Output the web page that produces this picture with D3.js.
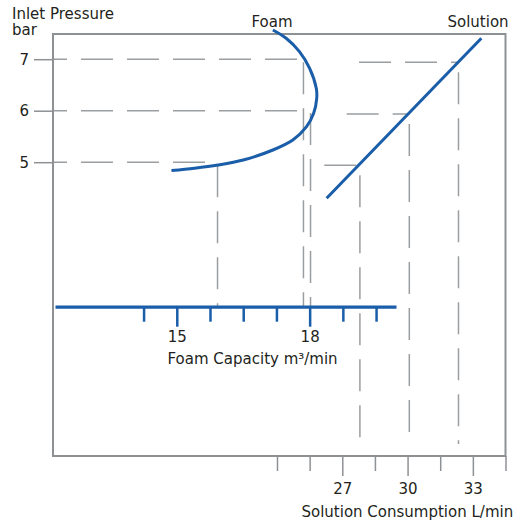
<html><head>
<script src="https://d3js.org/d3.v7.min.js"></script>
<style>
  body { margin: 0; background: #fff; }
  text { font-family: "DejaVu Sans", sans-serif; font-size: 15px; fill: #231f20; }
</style>
</head>
<body>
<svg id="chart" width="521" height="521"></svg>
<script>
// values
const pressureTicks = [5, 6, 7];
const foamTicks = [14.25, 15, 15.75, 16.5, 17.25, 18, 18.75, 19.5];
const foamLabels = [15, 18];
const solTicks = [24, 25.5, 27, 28.5, 30, 31.5, 33, 34.5];
const solLabels = [27, 30, 33];

// foam capacity (m3/min) vs inlet pressure (bar)
const foamCurve = [
  [17.17, 7.567], [17.47, 7.406], [17.77, 7.146], [18.00, 6.823],
  [18.15, 6.435], [18.16, 6.241], [18.09, 5.950], [17.93, 5.689],
  [17.62, 5.431], [17.17, 5.237], [16.50, 5.043], [15.93, 4.946],
  [15.40, 4.884], [14.88, 4.839]
];
// solution consumption (L/min) vs inlet pressure (bar)
const solutionLine = [[26.28, 4.30], [33.39, 7.406]];

// dashed reading guides
const foamGuideP = [7, 6, 5];
const foamGuideHEnd = [17.77, 17.82, 15.65];
const foamGuideV = [17.86, 18.02, 15.92];
const foamGuideVTop = [6.94, 5.955, 4.94];
const solGuideP = [6.94, 5.936, 4.94];
const solGuideHStart = [27.77, 27.2, 26.17];
const solGuideV = [32.34, 30.08, 27.81];

const svg = d3.select("svg#chart");
const blue = "#1a5da8";
const grey = "#8e9194";
const dashGrey = "#9b9ea1";

const frame = { left: 53, top: 34, right: 505.5, bottom: 456 };
const foamAxisY = 306.7;
const solGuideBottom = 444;

const y = d3.scaleLinear().domain([5, 7]).range([162.2, 59.2]);
const foamX = d3.scaleLinear().domain([12.25, 19.95]).range([55, 396]);
const solX = d3.scaleLinear().domain([24, 34.5]).range([277, 505.5]);

// guides first so the curves sit on top
const guides = svg.append("g")
  .attr("stroke", dashGrey)
  .attr("stroke-width", 1.5)
  .attr("stroke-dasharray", "32,14")
  .attr("fill", "none");

foamGuideP.forEach((p, i) => {
  guides.append("line")
    .attr("x1", frame.left).attr("x2", foamX(foamGuideHEnd[i]))
    .attr("y1", y(p)).attr("y2", y(p))
    .attr("stroke-dashoffset", 18);
  guides.append("line")
    .attr("x1", foamX(foamGuideV[i])).attr("x2", foamX(foamGuideV[i]))
    .attr("y1", y(foamGuideVTop[i])).attr("y2", foamAxisY);
});

solGuideP.forEach((p, i) => {
  guides.append("line")
    .attr("x1", solX(solGuideHStart[i])).attr("x2", solX(solGuideV[i]))
    .attr("y1", y(p)).attr("y2", y(p));
  guides.append("line")
    .attr("x1", solX(solGuideV[i])).attr("x2", solX(solGuideV[i]))
    .attr("y1", y(p)).attr("y2", solGuideBottom)
    .attr("stroke-dashoffset", 36);
});

// frame
svg.append("rect")
  .attr("x", frame.left).attr("y", frame.top)
  .attr("width", frame.right - frame.left)
  .attr("height", frame.bottom - frame.top)
  .attr("fill", "none")
  .attr("stroke", grey)
  .attr("stroke-width", 2);

// pressure axis
const yAxis = svg.append("g")
  .attr("transform", `translate(${frame.left},0)`)
  .call(d3.axisLeft(y).tickValues(pressureTicks).tickSize(19).tickPadding(5).tickFormat(d3.format("d")));
yAxis.select(".domain").remove();
yAxis.selectAll("line").attr("stroke", grey).attr("stroke-width", 1.5);
yAxis.selectAll("text").attr("font-size", null).attr("font-family", null).attr("fill", null);

// solution consumption axis
const sAxis = svg.append("g")
  .attr("transform", `translate(0,${frame.bottom})`)
  .call(d3.axisBottom(solX).tickValues(solTicks).tickSize(15)
    .tickFormat(d => solLabels.includes(d) ? d : ""));
sAxis.select(".domain").remove();
sAxis.selectAll("line").attr("stroke", grey).attr("stroke-width", 1.5)
  .attr("y2", d => solLabels.includes(d) ? 20 : 15);
sAxis.selectAll("text").attr("font-size", null).attr("font-family", null).attr("fill", null)
  .attr("y", 38).attr("dy", null);

// foam capacity axis
const fAxis = svg.append("g")
  .attr("transform", `translate(0,${foamAxisY})`)
  .call(d3.axisBottom(foamX).tickValues(foamTicks).tickSize(15).tickSizeOuter(0)
    .tickFormat(d => foamLabels.includes(d) ? d : ""));
fAxis.select(".domain").attr("stroke", blue).attr("stroke-width", 3.3);
fAxis.selectAll("line").attr("stroke", blue).attr("stroke-width", 2.5)
  .attr("y2", d => foamLabels.includes(d) ? 20 : 15);
fAxis.selectAll("text").attr("font-size", null).attr("font-family", null).attr("fill", null)
  .attr("y", 35).attr("dy", null);

// curves
svg.append("path")
  .datum(foamCurve)
  .attr("fill", "none")
  .attr("stroke", blue)
  .attr("stroke-width", 3)
  .attr("d", d3.line().x(d => foamX(d[0])).y(d => y(d[1])).curve(d3.curveCatmullRom.alpha(0.5)));

svg.append("path")
  .datum(solutionLine)
  .attr("fill", "none")
  .attr("stroke", blue)
  .attr("stroke-width", 3)
  .attr("d", d3.line().x(d => solX(d[0])).y(d => y(d[1])));

// labels
svg.append("text").attr("x", 12).attr("y", 18.5).text("Inlet Pressure");
svg.append("text").attr("x", 12).attr("y", 35).text("bar");
svg.append("text").attr("x", 251.5).attr("y", 26.5).text("Foam");
svg.append("text").attr("x", 447.5).attr("y", 26.5).text("Solution");
svg.append("text").attr("x", 167.5).attr("y", 363.5).text("Foam Capacity m³/min");
svg.append("text").attr("x", 301.5).attr("y", 516.5).text("Solution Consumption L/min");
</script>
</body>
</html>
